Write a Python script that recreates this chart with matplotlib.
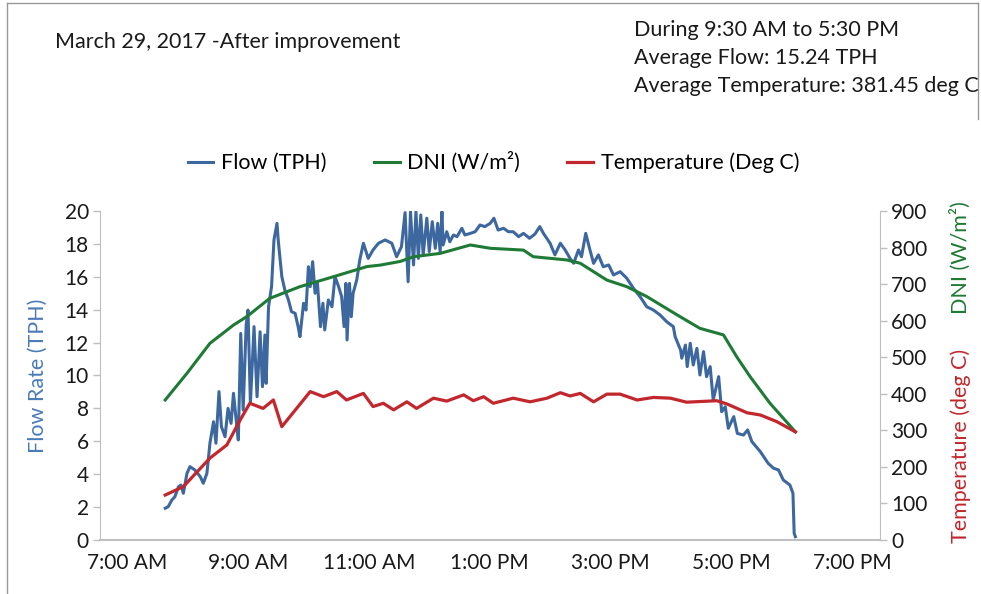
import matplotlib
matplotlib.use("Agg")
import matplotlib.pyplot as plt
from matplotlib.lines import Line2D

# hours of day (decimal) and values
flow_time = [7.63, 7.68, 7.74, 7.79, 7.85, 7.89, 7.93, 7.99, 8.04, 8.12, 8.21, 8.26, 8.32,
             8.37, 8.43, 8.47, 8.52, 8.56, 8.62, 8.67, 8.72, 8.76, 8.81, 8.84, 8.88, 8.92,
             8.97, 9.00, 9.04, 9.10, 9.15, 9.20, 9.24, 9.28, 9.30, 9.34, 9.39, 9.43, 9.48,
             9.50, 9.56, 9.61, 9.67, 9.72, 9.78, 9.83, 9.86, 9.92, 9.96, 10.00, 10.03, 10.07,
             10.11, 10.15, 10.20, 10.24, 10.27, 10.33, 10.39, 10.44, 10.50, 10.55, 10.59,
             10.62, 10.64, 10.68, 10.71, 10.74, 10.80, 10.85, 10.91, 10.99, 11.07, 11.16,
             11.27, 11.38, 11.46, 11.54, 11.60, 11.65, 11.69, 11.74, 11.78, 11.82, 11.86,
             11.90, 11.96, 12.00, 12.05, 12.10, 12.14, 12.18, 12.21, 12.23, 12.29, 12.34,
             12.40, 12.46, 12.54, 12.59, 12.68, 12.76, 12.84, 12.92, 13.01, 13.07, 13.14,
             13.23, 13.31, 13.39, 13.48, 13.56, 13.66, 13.75, 13.83, 13.89, 14.00, 14.08,
             14.17, 14.25, 14.33, 14.39, 14.47, 14.52, 14.59, 14.66, 14.72, 14.80, 14.88,
             14.97, 15.05, 15.16, 15.27, 15.38, 15.49, 15.60, 15.71, 15.82, 15.93, 16.04,
             16.07, 16.16, 16.18, 16.24, 16.27, 16.32, 16.37, 16.43, 16.48, 16.54, 16.59,
             16.65, 16.70, 16.79, 16.84, 16.90, 16.95, 17.04, 17.10, 17.20, 17.27, 17.34,
             17.48, 17.61, 17.70, 17.78, 17.86, 17.97, 18.02, 18.04, 18.06]
flow_tph = [1.93, 2.03, 2.43, 2.63, 3.24, 3.34, 2.84, 4.05, 4.46, 4.26, 3.85, 3.45, 4.05,
            5.88, 7.19, 5.88, 9.02, 6.89, 6.28, 8.00, 7.09, 8.92, 7.09, 6.08, 12.56, 7.90,
            13.07, 13.98, 8.31, 12.97, 8.71, 12.66, 9.32, 12.46, 9.52, 14.18, 15.40, 18.24,
            19.25, 18.24, 16.01, 15.20, 14.59, 13.88, 13.78, 12.97, 12.36, 14.39, 13.98,
            16.61, 15.40, 16.92, 15.00, 15.60, 12.97, 14.39, 12.77, 14.59, 14.18, 16.01,
            15.40, 14.79, 12.97, 15.60, 12.16, 15.60, 13.57, 15.00, 15.81, 17.02, 18.04,
            17.12, 17.63, 18.04, 18.24, 18.04, 17.22, 17.83, 19.90, 15.70, 19.96, 16.72,
            19.96, 17.12, 19.76, 17.33, 19.56, 17.53, 19.35, 17.73, 19.25, 17.53, 19.96,
            17.93, 18.74, 18.13, 18.54, 18.44, 18.95, 18.54, 18.64, 18.74, 19.15, 19.05,
            19.25, 19.56, 18.84, 18.95, 18.74, 18.74, 18.44, 18.64, 18.34, 18.60, 19.05,
            18.64, 18.04, 17.33, 18.04, 17.63, 17.12, 16.82, 17.63, 17.22, 18.64, 17.63,
            16.82, 17.33, 16.61, 16.72, 16.11, 16.31, 15.91, 15.30, 14.79, 14.18, 13.98,
            13.68, 13.27, 12.97, 12.36, 11.55, 11.05, 11.85, 10.54, 11.96, 10.64, 11.65,
            10.03, 11.45, 9.93, 10.54, 8.51, 9.93, 7.80, 8.10, 6.79, 7.50, 6.48, 6.38, 6.69,
            5.98, 5.37, 4.66, 4.36, 4.26, 3.65, 3.34, 2.84, 0.41, 0.20]

dni_time = [7.63, 7.99, 8.37, 8.76, 8.98, 9.36, 9.86, 10.41, 10.97, 11.19, 11.52, 11.74,
            12.18, 12.68, 13.01, 13.56, 13.72, 14.28, 14.50, 14.94, 15.27, 15.60, 16.10,
            16.48, 16.87, 17.09, 17.31, 17.64, 18.06]
dni_wm2 = [383, 456, 538, 588, 611, 661, 693, 720, 748, 752, 762, 775, 784, 807, 798, 793,
           775, 766, 757, 711, 693, 666, 616, 579, 561, 501, 447, 374, 296]

temp_time = [7.63, 7.93, 8.37, 8.65, 8.87, 9.03, 9.25, 9.42, 9.56, 10.03, 10.25, 10.47,
             10.63, 10.91, 11.07, 11.24, 11.41, 11.63, 11.79, 12.07, 12.29, 12.57, 12.73,
             12.90, 13.06, 13.39, 13.67, 13.95, 14.17, 14.33, 14.50, 14.72, 14.94, 15.16,
             15.44, 15.71, 15.99, 16.26, 16.76, 16.93, 17.26, 17.48, 17.75, 18.06]
temp_degc = [123, 146, 224, 260, 328, 374, 360, 383, 310, 406, 392, 406, 383, 401, 365,
             374, 356, 378, 360, 388, 380, 397, 381, 392, 374, 388, 378, 388, 403, 394, 401,
             378, 399, 399, 383, 390, 388, 377, 381, 372, 348, 342, 324, 296]

tick_hours = [7, 9, 11, 13, 15, 17, 19]
tick_labels = ["7:00 AM", "9:00 AM", "11:00 AM", "1:00 PM", "3:00 PM", "5:00 PM", "7:00 PM"]

blue = "#3D679F"
green = "#1E7A34"
red = "#C1272D"
grey = "#BFBFBF"
ink = "#1a1a1a"

plt.rcParams["font.family"] = ["Lato", "DejaVu Sans"]

fig = plt.figure(figsize=(9.81, 5.94), dpi=100)
ax = fig.add_axes([0.1019, 0.0909, 0.7951, 0.5539])
ax2 = ax.twinx()

ax.plot(flow_time, flow_tph, color=blue, lw=2.2, label="Flow (TPH)")
ax2.plot(dni_time, dni_wm2, color=green, lw=2.2, label="DNI (W/m²)")
ax2.plot(temp_time, temp_degc, color=red, lw=2.3, label="Temperature (Deg C)")

ax.set_xlim(6.55, 19.46)
ax.set_ylim(0, 20)
ax2.set_ylim(0, 900)
ax.set_yticks(range(0, 21, 2))
ax2.set_yticks(range(0, 901, 100))
ax.set_xticks(tick_hours)
ax.set_xticklabels(tick_labels)

for a in (ax, ax2):
    for s in a.spines.values():
        s.set_visible(False)
    a.tick_params(axis="y", colors=grey, labelcolor=ink, labelsize=15, length=5, width=1, pad=3)
    a.tick_params(axis="x", length=0, labelsize=15, labelcolor=ink, pad=9)
ax.spines["left"].set_visible(True)
ax.spines["left"].set_color(grey)
ax.spines["bottom"].set_visible(True)
ax.spines["bottom"].set_color(grey)
ax.spines["bottom"].set_linewidth(1.5)
ax2.spines["right"].set_visible(True)
ax2.spines["right"].set_color(grey)

ax.set_ylabel("Flow Rate (TPH)", color="#4A7AB8", fontsize=15.5, labelpad=12)
fig.text(0.979, 0.566, "DNI (W/m²)", color=green, fontsize=15.5, rotation=90, ha="center", va="center")
fig.text(0.979, 0.249, "Temperature (deg C)", color=red, fontsize=15.5, rotation=90, ha="center", va="center")

fig.text(0.056, 0.929, "March 29, 2017 -After improvement", fontsize=15.5, va="center", color=ink)
fig.text(0.646, 0.950, "During 9:30 AM to 5:30 PM", fontsize=15.5, va="center", color=ink)
fig.text(0.646, 0.902, "Average Flow: 15.24 TPH", fontsize=15.5, va="center", color=ink)
fig.text(0.646, 0.855, "Average Temperature: 381.45 deg C", fontsize=15.5, va="center", color=ink)

h1, l1 = ax.get_legend_handles_labels()
h2, l2 = ax2.get_legend_handles_labels()
fig.legend(h1 + h2, l1 + l2, loc="center", bbox_to_anchor=(0.503, 0.726), ncol=3,
           frameon=False, fontsize=15.5, handlelength=1.2, columnspacing=2.2, handletextpad=0.35)

# outer frame pieces
fig.add_artist(Line2D([0.007, 0.007], [0, 0.995], color="#999999", lw=1))
fig.add_artist(Line2D([0.007, 0.997], [0.995, 0.995], color="#999999", lw=1))
fig.add_artist(Line2D([0.997, 0.997], [0.8, 0.995], color="#999999", lw=1))

fig.savefig("out.png", dpi=100)
